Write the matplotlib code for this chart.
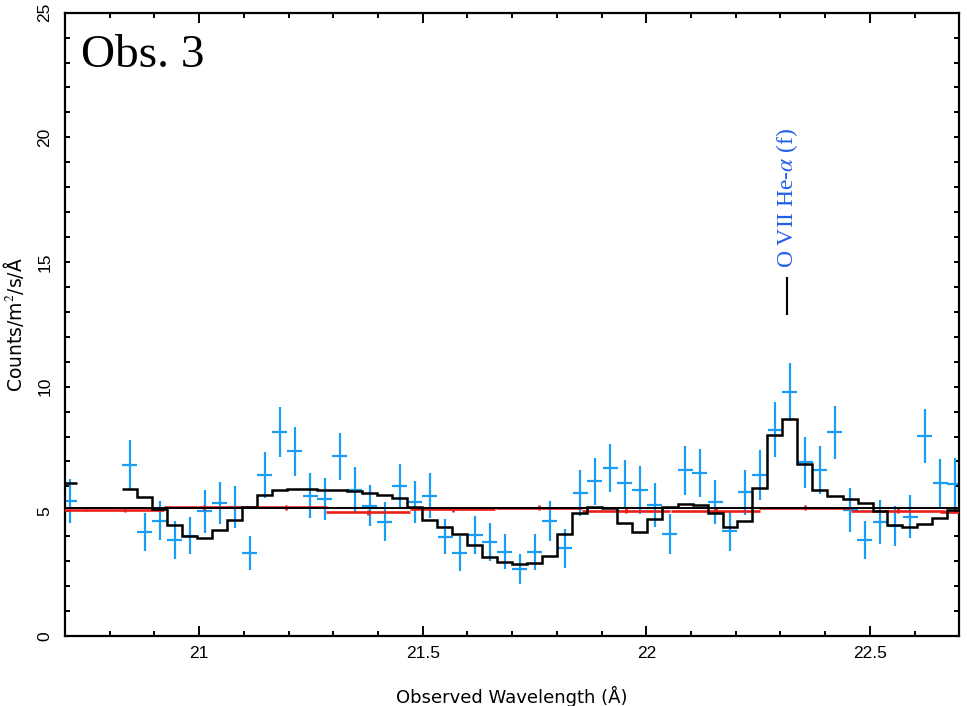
import numpy as np
import matplotlib
matplotlib.use("Agg")
import matplotlib.pyplot as plt
from matplotlib.ticker import MultipleLocator

# ---------------- data ----------------
# observed spectrum (bin centres, Angstrom)
data_wave = [20.711, 20.845, 20.878, 20.912, 20.946, 20.979, 21.013, 21.046, 21.080,
             21.113, 21.147, 21.180, 21.214, 21.248, 21.281, 21.315, 21.348, 21.382,
             21.415, 21.449, 21.482, 21.516, 21.550, 21.583, 21.617, 21.650, 21.684,
             21.717, 21.751, 21.784, 21.818, 21.852, 21.885, 21.919, 21.952, 21.986,
             22.019, 22.053, 22.087, 22.120, 22.154, 22.187, 22.221, 22.254, 22.288,
             22.321, 22.355, 22.388, 22.422, 22.456, 22.489, 22.523, 22.556, 22.590,
             22.623, 22.657, 22.690]
data_flux = [5.42, 6.85, 4.17, 4.63, 3.86, 4.02, 5.00, 5.34, 5.18,
             3.33, 6.45, 8.17, 7.41, 5.62, 5.49, 7.21, 5.85, 5.23,
             4.58, 6.01, 5.38, 5.62, 3.98, 3.31, 4.05, 3.77, 3.38,
             2.68, 3.37, 4.61, 3.51, 5.74, 6.20, 6.74, 6.12, 5.85,
             5.25, 4.09, 6.64, 6.52, 5.36, 4.21, 5.77, 6.45, 8.28,
             9.79, 6.97, 6.66, 8.17, 5.06, 3.85, 4.58, 4.42, 4.78,
             8.03, 6.12, 6.08]
data_err = [0.87, 1.00, 0.75, 0.78, 0.77, 0.75, 0.85, 0.83, 0.83,
            0.69, 0.91, 1.01, 0.98, 0.90, 0.85, 0.95, 0.91, 0.83,
            0.79, 0.89, 0.85, 0.90, 0.71, 0.69, 0.75, 0.77, 0.71,
            0.60, 0.71, 0.82, 0.80, 0.93, 0.93, 0.97, 0.93, 0.96,
            0.88, 0.81, 0.97, 0.96, 0.88, 0.79, 0.90, 1.00, 1.09,
            1.17, 1.02, 0.95, 1.07, 0.88, 0.76, 0.88, 0.81, 0.87,
            1.09, 0.97, 1.06]
bin_halfwidth = 0.0168

# best-fit model (same bins as the data)
model_flux = [6.12, 5.88, 5.57, 5.09, 4.47, 4.00, 3.94, 4.27, 4.66,
              5.18, 5.65, 5.84, 5.88, 5.88, 5.87, 5.86, 5.83, 5.74,
              5.66, 5.52, 5.16, 4.65, 4.38, 4.11, 3.66, 3.18, 2.95,
              2.88, 2.94, 3.21, 4.07, 4.92, 5.18, 5.12, 4.54, 4.18,
              4.70, 5.18, 5.29, 5.25, 4.95, 4.38, 4.61, 5.92, 8.05,
              8.72, 6.88, 5.85, 5.60, 5.48, 5.34, 5.01, 4.46, 4.39,
              4.51, 4.74, 5.07]

# continuum level
continuum_level = 5.12

# broad-binned comparison spectrum (red)
red_wave = [20.661, 20.834, 21.011, 21.194, 21.378, 21.567, 21.760, 21.955,
            22.155, 22.355, 22.563, 22.763]
red_halfwidth = [0.085, 0.0885, 0.090, 0.091, 0.0935, 0.095, 0.097, 0.099,
                 0.100, 0.102, 0.1055, 0.107]
red_flux = [5.07, 5.07, 5.17, 5.17, 4.96, 5.09, 5.14, 5.03, 5.02, 5.14, 5.02, 4.98]
red_err = [0.10] * 12

# line identification
line_label = "O VII He-$\\alpha$ (f)"
line_wave = 22.315
line_mark = (12.93, 14.36)
line_text_y = 14.74

panel_label = "Obs. 3"
x_ticks = [21, 21.5, 22, 22.5]
x_ticklabels = ["21", "21.5", "22", "22.5"]
y_ticks = [0, 5, 10, 15, 20, 25]
y_ticklabels = ["0", "5", "10", "15", "20", "25"]

# ---------------- plot ----------------
plt.rcParams['mathtext.fontset'] = 'stix'

fig = plt.figure(figsize=(9.67, 7.06), dpi=100)
ax = fig.add_axes([0.0672, 0.0992, 0.9248, 0.8828])

blue = '#1a9ef5'
red = '#e8201a'

# data crosses
ax.errorbar(data_wave, data_flux, xerr=bin_halfwidth, yerr=data_err, fmt='none',
            ecolor=blue, elinewidth=1.6, capsize=0, zorder=2)

# red broad-binned spectrum
ax.errorbar(red_wave, red_flux, xerr=red_halfwidth, yerr=red_err, fmt='none',
            ecolor=red, elinewidth=1.9, capsize=0, zorder=3)

# continuum
ax.axhline(continuum_level, color='black', lw=1.4, zorder=4)

# model as histogram, split into contiguous runs
w = np.array(data_wave)
m = np.array(model_flux)
breaks = np.where(np.diff(w) > 3 * bin_halfwidth)[0] + 1
for idx in np.split(np.arange(len(w)), breaks):
    ww = w[idx]
    edges = np.concatenate([[ww[0] - bin_halfwidth],
                            (ww[:-1] + ww[1:]) / 2 if len(ww) > 1 else [],
                            [ww[-1] + bin_halfwidth]])
    ax.stairs(m[idx], edges, baseline=None, color='black', lw=1.8, zorder=5)

# line ID
ax.plot([line_wave, line_wave], line_mark, color='black', lw=1.5, zorder=6)
ax.text(line_wave, line_text_y, line_label, rotation=90, ha='center', va='bottom',
        color='#1f5fe8', fontsize=17, family='Liberation Serif')

ax.text(0.018, 0.913, panel_label, transform=ax.transAxes, ha='left', va='baseline',
        fontsize=34, family='Liberation Serif', color='black')

ax.set_xlim(20.7, 22.7)
ax.set_ylim(0, 25)
ax.set_xticks(x_ticks)
ax.set_xticklabels(x_ticklabels)
ax.set_yticks(y_ticks)
ax.set_yticklabels(y_ticklabels, rotation=90, va='center')
ax.xaxis.set_minor_locator(MultipleLocator(0.1))
ax.yaxis.set_minor_locator(MultipleLocator(1))

ax.tick_params(which='both', direction='in', top=True, right=True, width=1.4,
               labelsize=12.5, colors='black')
ax.tick_params(axis='x', which='major', length=7, pad=7)
ax.tick_params(axis='x', which='minor', length=3.5)
ax.tick_params(axis='y', which='major', length=3.8, pad=9)
ax.tick_params(axis='y', which='minor', length=3.8)
for lab in ax.get_xticklabels() + ax.get_yticklabels():
    lab.set_family('Liberation Sans')

for s in ax.spines.values():
    s.set_linewidth(1.6)

ax.set_xlabel("Observed Wavelength (Å)", fontsize=13, family='DejaVu Sans', labelpad=18)
ax.set_ylabel("Counts/m$^2$/s/Å", fontsize=13.5, family='DejaVu Sans', labelpad=8)

fig.savefig("out.png", dpi=100)
